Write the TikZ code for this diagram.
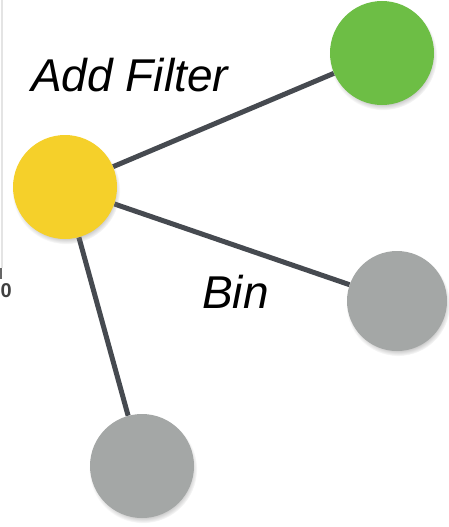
\documentclass[tikz,border=0pt]{standalone}
\usepackage{fontspec}
\setmainfont{Liberation Sans}
\usetikzlibrary{shadows, backgrounds}
\definecolor{hubyellow}{HTML}{F5D02A}
\definecolor{pickgreen}{HTML}{6DBE45}
\definecolor{idlegray}{HTML}{A4A7A6}
\definecolor{linkgray}{HTML}{464A50}
\definecolor{axisgray}{HTML}{E4E4E4}

\begin{document}
\begin{tikzpicture}[x=1pt, y=-1pt,
  dot/.style={circle, minimum size=104pt, inner sep=0pt,
    circular drop shadow={shadow xshift=1pt, shadow yshift=-3pt, shadow scale=1.04, opacity=0.55}},
  link/.style={line width=5pt, draw=linkgray},
  tag/.style={font=\fontsize{46}{50}\selectfont\itshape, inner sep=0pt, anchor=base west}]
\useasboundingbox (0,0) rectangle (448,527);

% cut-off axis at the left edge
\draw[axisgray, line width=1.2pt] (2,0) -- (2,268);
\draw[black!60, line width=1.5pt] (1,268) -- (1,279);
\node[font=\fontsize{20}{22}\selectfont\bfseries, text=black!75, inner sep=0pt, anchor=base west] (zero) at (0.5,297) {0};

\node[dot, fill=hubyellow] (hub) at (65,187) {};
\node[dot, fill=pickgreen] (filt) at (382,53) {};
\node[dot, fill=idlegray, minimum size=100pt] (binr) at (397,301) {};
\node[dot, fill=idlegray] (binb) at (142,466) {};

\begin{scope}[on background layer]
\draw[link] (hub) -- (filt);
\draw[link] (hub) -- (binr);
\draw[link] (hub) -- (binb);
\end{scope}

\node[tag] (addlbl) at (31,92) {Add Filter};
\node[tag] (binlbl) at (202,308) {Bin};
\end{tikzpicture}
\end{document}
